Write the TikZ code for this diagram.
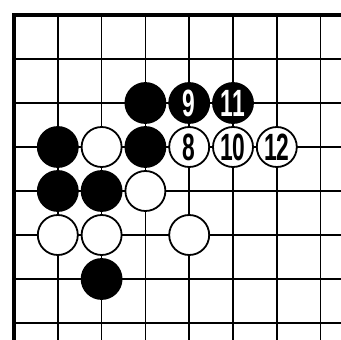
\documentclass[tikz,border=0pt]{standalone}
\usepackage{fontspec}
\newfontfamily\numfont{Liberation Sans}
\newcommand{\stonenum}[1]{\scalebox{0.6}[1]{\numfont\bfseries\fontsize{38}{38}\selectfont #1}}
\tikzset{
  stone/.style={circle, minimum size=40pt, inner sep=0pt, line width=1.8pt, draw=black},
  bstone/.style={stone, fill=black, text=white},
  wstone/.style={stone, fill=white, text=black},
  gridline/.style={line width=1.5pt},
  boardedge/.style={line width=4.8pt, line join=miter},
}
\begin{document}
\begin{tikzpicture}[x=1pt,y=1pt]
\useasboundingbox (0,0) rectangle (341,-340);
\fill[white] (0,0) rectangle (341,-340);
\begin{scope}[shift={(14pt,-15pt)}, x=43.8pt, y=-44pt]
  % grid
  \foreach \c in {1,...,7} \draw[gridline] (\c,0) -- (\c,7.4);
  \foreach \r in {1,...,7} \draw[gridline] (0,\r) -- (7.5,\r);
  \draw[boardedge] (0,7.4) -- (0,0) -- (7.5,0);
  % row 2
  \node[bstone] (b32) at (3,2) {};
  \node[bstone] (b42) at (4,2) {\stonenum{9}};
  \node[bstone] (b52) at (5,2) {\stonenum{11}};
  % row 3
  \node[bstone] (b13) at (1,3) {};
  \node[wstone] (w23) at (2,3) {};
  \node[bstone] (b33) at (3,3) {};
  \node[wstone] (w43) at (4,3) {\stonenum{8}};
  \node[wstone] (w53) at (5,3) {\stonenum{10}};
  \node[wstone] (w63) at (6,3) {\stonenum{12}};
  % row 4
  \node[bstone] (b14) at (1,4) {};
  \node[bstone] (b24) at (2,4) {};
  \node[wstone] (w34) at (3,4) {};
  % row 5
  \node[wstone] (w15) at (1,5) {};
  \node[wstone] (w25) at (2,5) {};
  \node[wstone] (w45) at (4,5) {};
  % row 6
  \node[bstone] (b26) at (2,6) {};
\end{scope}
\end{tikzpicture}
\end{document}
